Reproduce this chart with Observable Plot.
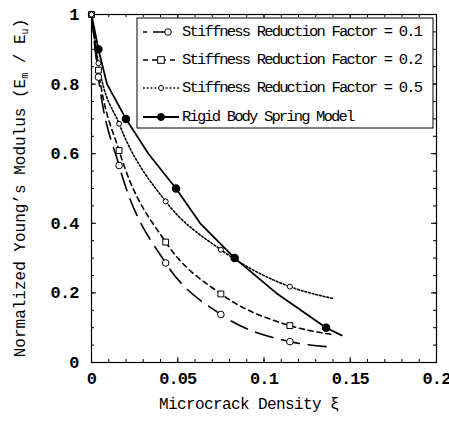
<!DOCTYPE html>
<html>
<head>
<meta charset="utf-8">
<script src="https://cdn.jsdelivr.net/npm/d3@7"></script>
<script src="https://cdn.jsdelivr.net/npm/@observablehq/plot@0.6"></script>
<style>
  html, body { margin: 0; padding: 0; background: white; }
  svg { display: block; }
</style>
</head>
<body>
<div id="chart"></div>
<script>
// ---- data ----
const seriesNames = [
  "Stiffness Reduction Factor = 0.1",
  "Stiffness Reduction Factor = 0.2",
  "Stiffness Reduction Factor = 0.5",
  "Rigid Body Spring Model"
];
const srfX  = [0, 0.004, 0.016, 0.043, 0.075, 0.115, 0.14];
const srf01 = [1, 0.82, 0.566, 0.286, 0.138, 0.060, 0.044];
const srf02 = [1, 0.84, 0.609, 0.346, 0.197, 0.106, 0.080];
const srf05 = [1, 0.86, 0.686, 0.463, 0.324, 0.218, 0.184];
const srfMarkIdx = [0, 1, 2, 3, 4, 5];

const rigidX = [0, 0.004, 0.009, 0.02, 0.033, 0.049, 0.063, 0.083, 0.107, 0.136, 0.145];
const rigidY = [1, 0.9, 0.8, 0.7, 0.6, 0.5, 0.4, 0.3, 0.2, 0.1, 0.078];
const rigidMarkIdx = [1, 3, 5, 7, 9];

const xMajor = [0, 0.05, 0.1, 0.15, 0.2];
const xMinor = d3.range(0, 21).map(i => i / 100);
const yMajor = [0, 0.2, 0.4, 0.6, 0.8, 1];
const yMinor = d3.range(0, 21).map(i => i / 20);

// ---- layout ----
const W = 449, H = 426;
const mL = 91, mR = 13, mT = 14, mB = 64;
const fw = W - mL - mR, fh = H - mT - mB;

const toRows = (xs, ys) => xs.map((x, i) => ({x, y: ys[i]}));
const s01 = toRows(srfX, srf01), s02 = toRows(srfX, srf02), s05 = toRows(srfX, srf05);
const rig = toRows(rigidX, rigidY);
const pick = (rows, idx) => idx.map(i => rows[i]);

const fmt = d3.format("~g");

const plot = Plot.plot({
  width: W, height: H,
  marginLeft: mL, marginRight: mR, marginTop: mT, marginBottom: mB,
  x: {domain: [0, 0.2]},
  y: {domain: [0, 1]},
  style: {fontFamily: "Liberation Mono", fontSize: "17px", color: "black", background: "white"},
  marks: [
    // ticks (inward, all four sides)
    Plot.ruleX(xMajor, {insetTop: fh - 5, stroke: "black"}),
    Plot.ruleX(xMinor, {insetTop: fh - 3, stroke: "black"}),
    Plot.ruleX(xMajor, {insetBottom: fh - 5, stroke: "black"}),
    Plot.ruleX(xMinor, {insetBottom: fh - 3, stroke: "black"}),
    Plot.ruleY(yMajor, {insetRight: fw - 5, stroke: "black"}),
    Plot.ruleY(yMinor, {insetRight: fw - 3, stroke: "black"}),
    Plot.ruleY(yMajor, {insetLeft: fw - 5, stroke: "black"}),
    Plot.ruleY(yMinor, {insetLeft: fw - 3, stroke: "black"}),
    Plot.frame({stroke: "black", strokeWidth: 1.2}),
    Plot.axisX(xMajor, {tickSize: 0, tickPadding: 9, tickFormat: fmt, label: null, fontSize: 17}),
    Plot.axisY(yMajor, {tickSize: 0, tickPadding: 13, tickFormat: fmt, label: null, fontSize: 17}),
    // lines
    Plot.line(s01, {x: "x", y: "y", stroke: "black", strokeWidth: 1.6, strokeDasharray: "18,9", curve: "monotone-x"}),
    Plot.line(s02, {x: "x", y: "y", stroke: "black", strokeWidth: 1.6, strokeDasharray: "5,4", curve: "monotone-x"}),
    Plot.line(s05, {x: "x", y: "y", stroke: "black", strokeWidth: 1.6, strokeDasharray: "1.8,2", curve: "monotone-x"}),
    Plot.line(rig, {x: "x", y: "y", stroke: "black", strokeWidth: 1.8}),
    // markers
    Plot.dot(pick(s01, srfMarkIdx), {x: "x", y: "y", r: 3.3, fill: "white", stroke: "black", strokeWidth: 1}),
    Plot.dot(pick(s02, srfMarkIdx), {x: "x", y: "y", r: 3.3, symbol: "square", fill: "white", stroke: "black", strokeWidth: 1}),
    Plot.dot(pick(s05, srfMarkIdx), {x: "x", y: "y", r: 2.5, fill: "white", stroke: "black", strokeWidth: 1}),
    Plot.dot(pick(rig, rigidMarkIdx), {x: "x", y: "y", r: 3.5, fill: "black", stroke: "black"})
  ]
});

document.getElementById("chart").appendChild(plot);

// ---- titles & legend ----
const svg = d3.select(plot);
svg.selectAll("text").style("letter-spacing", "-0.9px").style("font-weight", "bold");

const yt = svg.append("text")
  .attr("transform", "translate(21,188) rotate(-90)")
  .attr("text-anchor", "middle")
  .attr("dominant-baseline", "middle")
  .style("font-family", "Liberation Mono")
  .style("font-size", "16px");
yt.append("tspan").text("Normalized Young’s Modulus (E");
yt.append("tspan").attr("font-size", "10px").attr("dy", 4).text("m");
yt.append("tspan").attr("dy", -4).text(" / E");
yt.append("tspan").attr("font-size", "10px").attr("dy", 4).text("u");
yt.append("tspan").attr("dy", -4).text(")");

svg.append("text")
  .attr("x", 249).attr("y", 405)
  .attr("text-anchor", "middle")
  .attr("dominant-baseline", "middle")
  .style("font-family", "Liberation Mono")
  .style("font-size", "16px")
  .style("letter-spacing", "-0.6px")
  .text("Microcrack Density ξ");

const lg = svg.append("g");
lg.append("rect").attr("x", 137).attr("y", 18).attr("width", 296).attr("height", 110)
  .attr("fill", "white").attr("stroke", "black").attr("stroke-width", 1);
const legendStyles = [
  {dash: "4,6,18,9", w: 1.6, mark: "circle", r: 3.3, fill: "white"},
  {dash: "5,4", w: 1.6, mark: "square", r: 3.3, fill: "white"},
  {dash: "1.8,2", w: 1.6, mark: "circle", r: 2.5, fill: "white"},
  {dash: null, w: 1.8, mark: "circle", r: 3.5, fill: "black"}
];
const legendY = [32, 60, 88, 117];
seriesNames.forEach((name, i) => {
  const st = legendStyles[i], y = legendY[i];
  lg.append("line").attr("x1", 143).attr("x2", 179).attr("y1", y).attr("y2", y)
    .attr("stroke", "black").attr("stroke-width", st.w)
    .attr("stroke-dasharray", st.dash);
  const mx = i === 0 ? 168 : 161;
  if (st.mark === "square") {
    lg.append("rect").attr("x", mx - st.r).attr("y", y - st.r).attr("width", 2 * st.r).attr("height", 2 * st.r)
      .attr("fill", st.fill).attr("stroke", "black");
  } else {
    lg.append("circle").attr("cx", mx).attr("cy", y).attr("r", st.r)
      .attr("fill", st.fill).attr("stroke", "black");
  }
  lg.append("text").attr("x", 182).attr("y", y)
    .attr("text-anchor", "start")
    .attr("dominant-baseline", "middle")
    .style("font-family", "Liberation Mono")
    .style("font-size", "15.5px")
    .attr("textLength", name.length * 7.53)
    .attr("lengthAdjust", "spacing")
    .text(name);
});
</script>
</body>
</html>
